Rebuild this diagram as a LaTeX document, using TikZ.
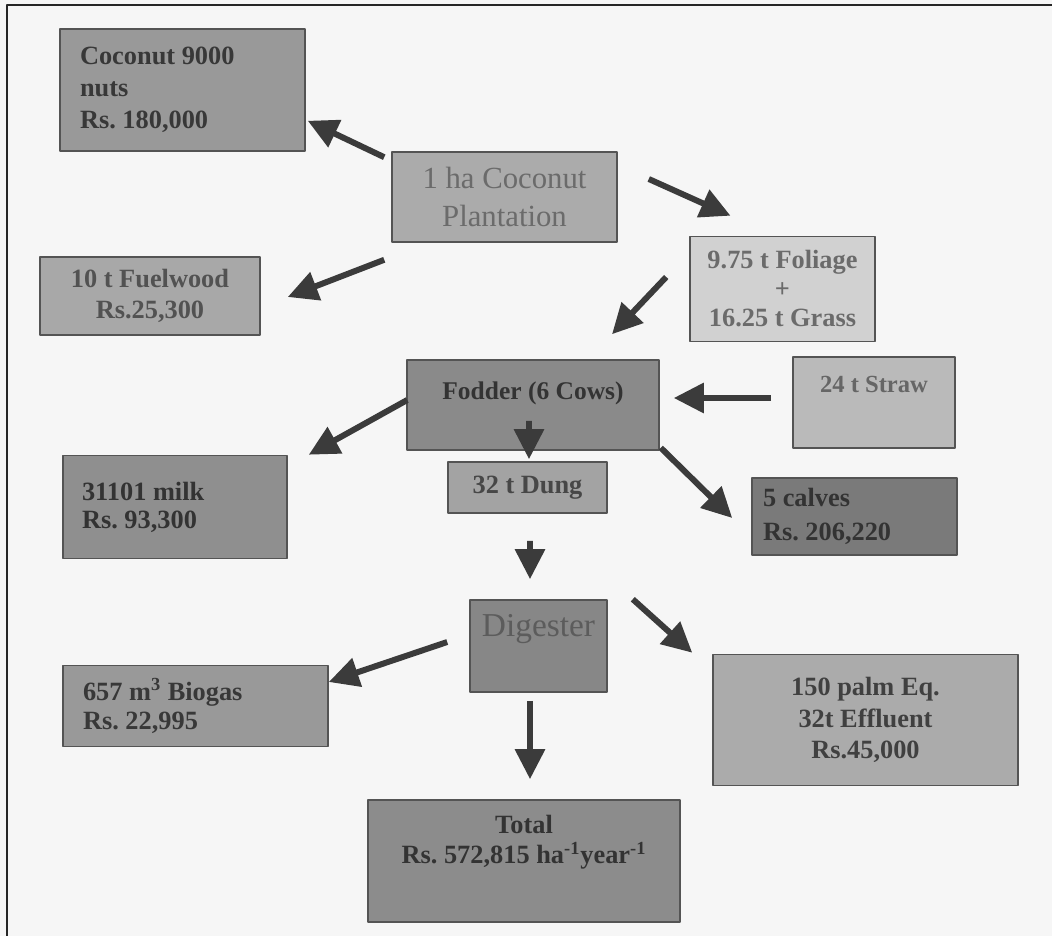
\documentclass[tikz,border=0pt]{standalone}
\usepackage{fontspec}
\setmainfont{Liberation Serif}
\usetikzlibrary{arrows.meta,calc}
\frenchspacing
\definecolor{paper}{gray}{0.965}
\definecolor{edge}{gray}{0.33}
\definecolor{arrowc}{gray}{0.23}
\begin{document}
\begin{tikzpicture}[x=0.02cm, y=-0.02cm, line join=round,
  font=\fontsize{15}{18}\selectfont\bfseries,
  box/.style={draw=edge, line width=0.9pt, inner sep=0pt, align=center},
  lbox/.style={box, align=flush left, inner xsep=#1},
  arr/.style={draw=arrowc, line width=3.4pt, -{Triangle[length=0.6cm,width=0.58cm]}}]
\useasboundingbox (0,0) rectangle (1052,936);
\fill[paper] (0,0) rectangle (1052,936);
\draw[black!85, line width=1.3pt] (1052,5) -- (7,5) -- (7,936);
% boxes
\node[lbox=0.4cm, fill=black!40, text=black!78, minimum width=4.9cm, minimum height=2.44cm,
  text width=4.1cm, font=\fontsize{15}{18.2}\selectfont\bfseries] (coco) at (182.5,90)
  {Coconut 9000\\nuts\\Rs. 180,000};
\node[box, fill=black!33, text=black!58, minimum width=4.5cm, minimum height=1.8cm,
  font=\fontsize{17.5}{22}\selectfont] (plant) at (504.5,197) {1 ha Coconut\\Plantation};
\node[box, fill=black!34, text=black!68, minimum width=4.4cm, minimum height=1.56cm] (fuel)
  at (150,296) {10 t Fuelwood\\Rs.25,300};
\node[box, fill=black!18, text=black!58, minimum width=3.7cm, minimum height=2.1cm,
  font=\fontsize{15}{16.5}\selectfont\bfseries] (foli) at (782.5,289) {9.75 t Foliage\\+\\16.25 t Grass};
\node[box, fill=black!27, minimum width=3.24cm, minimum height=1.82cm] (straw) at (874,402.5) {};
\node[text=black!60, font=\fontsize{14}{16}\selectfont\bfseries] (strawt) at (874,384) {24 t Straw};
\node[box, fill=black!46, minimum width=5.04cm, minimum height=1.8cm] (fodder) at (533,405) {};
\node[text=black!80, font=\fontsize{14.5}{16}\selectfont\bfseries] (foddert) at (533,393) {Fodder (6 Cows)};
\node[box, fill=black!36, text=black!72, minimum width=3.18cm, minimum height=1.02cm] (dung)
  at (527.5,487.5) {32 t Dung};
\node[lbox=0.22cm, fill=black!52, text=black!80, minimum width=4.1cm, minimum height=1.54cm,
  text width=3.66cm, font=\fontsize{15}{19.5}\selectfont\bfseries] (calf) at (854.5,516.5)
  {5 calves\\Rs. 206,220};
\node[lbox=0.38cm, fill=black!44, text=black!80, minimum width=4.48cm, minimum height=2.06cm,
  text width=3.72cm, font=\fontsize{15}{16}\selectfont\bfseries] (milk) at (175,507)
  {31101 milk\\Rs. 93,300};
\node[box, fill=black!47, minimum width=2.74cm, minimum height=1.84cm] (dig) at (538.5,646) {};
\node[text=black!64, font=\fontsize{19}{22}\selectfont] (digt) at (538.5,629) {Digester};
\node[lbox=0.4cm, fill=black!40, text=black!78, minimum width=5.3cm, minimum height=1.62cm,
  text width=4.5cm, font=\fontsize{15}{16.5}\selectfont\bfseries] (gas) at (195.5,706)
  {657 m\textsuperscript{3} Biogas\\Rs. 22,995};
\node[box, fill=black!33, text=black!75, minimum width=6.1cm, minimum height=2.62cm,
  font=\fontsize{15}{18}\selectfont\bfseries] (palm) at (865.5,720) {150 palm Eq.\\32t Effluent\\Rs.45,000};
\node[box, fill=black!45, minimum width=6.24cm, minimum height=2.44cm] (total) at (524,861) {};
\node[text=black!80, align=center, font=\fontsize{15}{17}\selectfont\bfseries] (totalt) at (524,842)
  {Total\\Rs. 572,815 ha\textsuperscript{-1}year\textsuperscript{-1}};
% flows
\draw[arr] ($(plant.north west)+(-7,6)$) -- ($(coco.south east)+(2,-31)$);
\draw[arr] ($(plant.south west)+(-7,17)$) -- ($(fuel.east)+(27,1)$);
\draw[arr] ($(plant.east)+(31,-18)$) -- ($(foli.north)+(-52,-20)$);
\draw[arr] ($(foli.west)+(-23,-12)$) -- ($(fodder.north)+(79,-25)$);
\draw[arr] ($(straw.west)+(-21,-4.5)$) -- ($(fodder.east)+(14,-7)$);
\draw[arr] ($(fodder.west)+(1,-5)$) -- ($(milk.north east)+(21,0)$);
\draw[arr] ($(fodder.south)+(-4,-30)$) -- ($(dung.north)+(1.5,-2)$);
\draw[arr] ($(dung.south)+(2.5,27)$) -- ($(dig.north)+(-8.5,-20)$);
\draw[arr] ($(fodder.south east)+(1,-3)$) -- ($(calf.west)+(-19,1.5)$);
\draw[arr] ($(dig.west)+(-22,-4)$) -- ($(gas.east)+(0,-24)$);
\draw[arr] ($(dig.north east)+(25,0)$) -- ($(palm.north west)+(-20,-1)$);
\draw[arr] ($(dig.south)+(-8.5,8)$) -- ($(total.north)+(6,-20)$);
\end{tikzpicture}
\end{document}
